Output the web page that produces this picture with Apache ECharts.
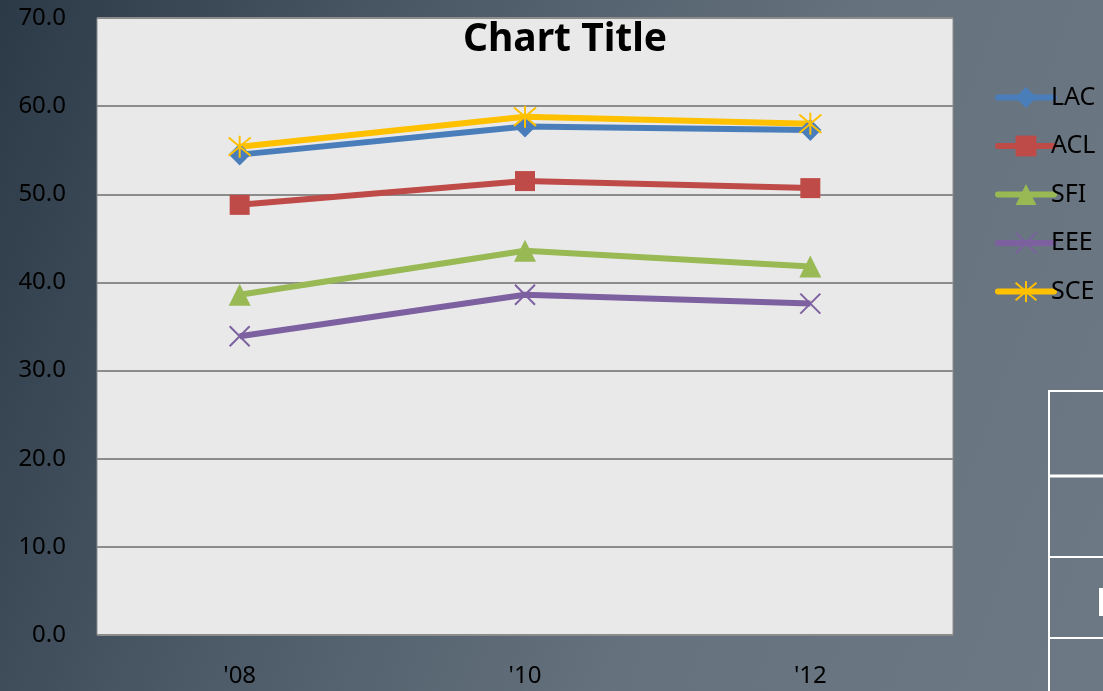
<!DOCTYPE html>
<html><head><meta charset="utf-8">
<script src="https://cdn.jsdelivr.net/npm/echarts@6/dist/echarts.min.js"></script>
<style>html,body{margin:0;padding:0;width:1103px;height:691px;overflow:hidden;background:linear-gradient(110deg,#2c3946 0%,#4a5866 30%,#66737e 65%,#6c7984 100%);}#c{width:1103px;height:691px;}</style>
</head><body><div id="c"></div>
<script>
const categories = ["'08", "'10", "'12"];
const LAC = [54.5, 57.7, 57.3];
const ACL = [48.8, 51.5, 50.7];
const SFI = [38.6, 43.6, 41.8];
const EEE = [33.9, 38.6, 37.6];
const SCE = [55.4, 58.8, 58.0];
const yTicks = [0, 10, 20, 30, 40, 50, 60, 70];

const font = 'Noto Sans';
const chart = echarts.init(document.getElementById('c'));
function mk(name, data, color, symbol, size, hollow) {
  return {
    name, type: 'line', data, symbol, symbolSize: size,
    lineStyle: { color, width: 6 },
    itemStyle: hollow ? { color: 'rgba(0,0,0,0)', borderColor: color, borderWidth: 2 } : { color },
    emphasis: { disabled: true }, z: 3
  };
}
chart.setOption({
  backgroundColor: 'transparent',
  animation: false,
  title: { text: 'Chart Title', left: 560, top: 15, textAlign: 'center',
    textStyle: { fontFamily: font, fontWeight: 'bold', fontSize: 39, color: '#000' } },
  legend: {
    orient: 'vertical', left: 990, top: 80, itemWidth: 56, itemHeight: 26, itemGap: 23.5,
    lineStyle: { width: 6, cap: 'round' },
    textStyle: { fontFamily: font, fontSize: 25, color: '#000', padding: [0,0,0,-8] },
    data: ['LAC', 'ACL', 'SFI', 'EEE', 'SCE']
  },
  grid: { left: 97, right: 150, top: 18, bottom: 56, show: true, backgroundColor: '#e9e9e9', borderColor: '#8c8c8c', borderWidth: 1 },
  xAxis: {
    type: 'category', data: categories, boundaryGap: true,
    axisLine: { show: false }, axisTick: { show: false },
    axisLabel: { fontFamily: font, fontSize: 24, color: '#000', margin: 29 }
  },
  yAxis: {
    type: 'value', min: 0, max: 70, interval: 10,
    axisLine: { show: false }, axisTick: { show: false },
    axisLabel: { fontFamily: font, fontSize: 24, color: '#000', margin: 31, formatter: v => v.toFixed(1) },
    splitLine: { lineStyle: { color: '#8c8c8c', width: 2 } }
  },
  series: [
    mk('LAC', LAC, '#4a7ebb', 'diamond', 22, false),
    mk('ACL', ACL, '#be4b48', 'rect', 20, false),
    mk('SFI', SFI, '#98b954', 'triangle', 22, false),
    mk('EEE', EEE, '#7d60a0', 'path://M0,0L10,10M10,0L0,10', 20, true),
    mk('SCE', SCE, '#ffc000', 'path://M0,0L10,10M10,0L0,10M5,-1L5,11', 22, true)
  ],
  graphic: [
    { type: 'polyline', shape: { points: [[1049, 691], [1049, 391], [1103, 391]] }, style: { stroke: '#fff', lineWidth: 2, fill: null } },
    { type: 'line', shape: { x1: 1049, y1: 476, x2: 1103, y2: 476 }, style: { stroke: '#fff', lineWidth: 3 } },
    { type: 'line', shape: { x1: 1049, y1: 557, x2: 1103, y2: 557 }, style: { stroke: '#fff', lineWidth: 2 } },
    { type: 'line', shape: { x1: 1049, y1: 638, x2: 1103, y2: 638 }, style: { stroke: '#fff', lineWidth: 2 } },
    { type: 'rect', shape: { x: 1099, y: 588, width: 4, height: 28 }, style: { fill: '#fff' } }
  ]
});
</script></body></html>
